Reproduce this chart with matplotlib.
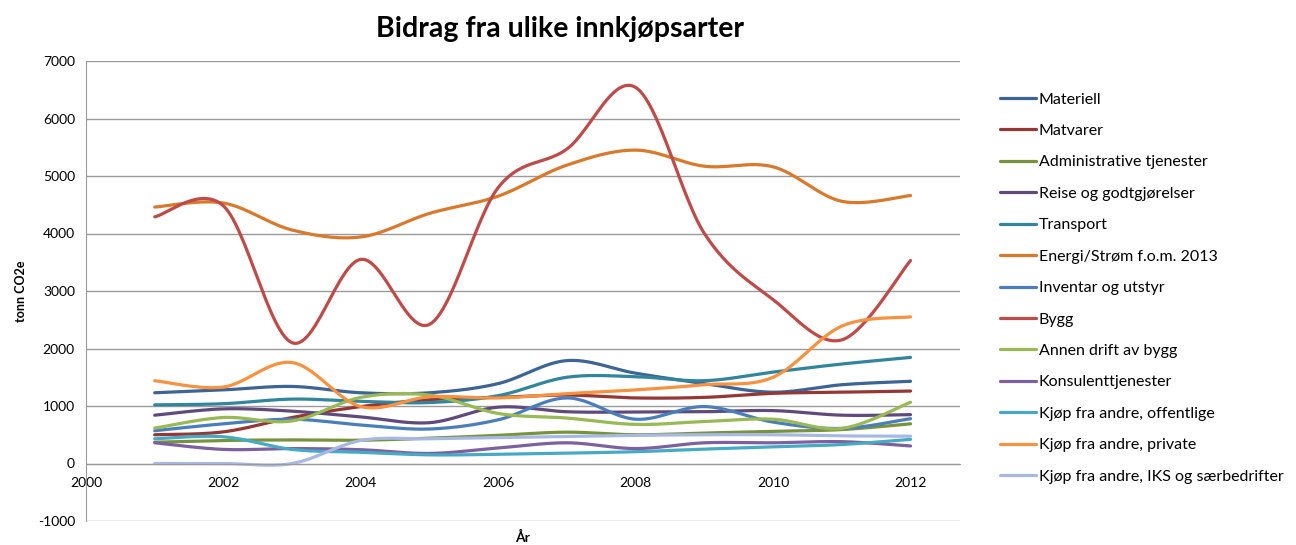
import numpy as np
import matplotlib
matplotlib.use('agg')
import matplotlib.pyplot as plt

plt.rcParams['font.family'] = ['Lato', 'DejaVu Sans']
plt.rcParams['axes.unicode_minus'] = False

years = [2001, 2002, 2003, 2004, 2005, 2006, 2007, 2008, 2009, 2010, 2011, 2012]

materiell = [1230, 1280, 1340, 1230, 1230, 1390, 1790, 1570, 1390, 1240, 1370, 1430]
matvarer = [500, 550, 800, 990, 1110, 1150, 1190, 1140, 1150, 1220, 1240, 1260]
administrative = [370, 400, 410, 405, 440, 490, 545, 500, 530, 560, 590, 690]
reise = [840, 950, 910, 810, 710, 980, 900, 895, 900, 920, 840, 850]
transport = [1020, 1040, 1120, 1080, 1060, 1180, 1500, 1510, 1440, 1590, 1730, 1845]
energi = [4460, 4530, 4060, 3940, 4350, 4650, 5190, 5450, 5170, 5160, 4560, 4660]
inventar = [570, 690, 770, 670, 600, 760, 1140, 770, 990, 720, 610, 780]
bygg = [4290, 4480, 2100, 3550, 2420, 4800, 5470, 6540, 4000, 2850, 2150, 3530]
annen_drift = [615, 800, 740, 1150, 1190, 870, 790, 680, 730, 770, 610, 1065]
konsulent = [360, 245, 260, 240, 175, 270, 360, 260, 360, 360, 380, 305]
kjop_offentlige = [430, 465, 245, 195, 150, 160, 180, 205, 250, 290, 330, 420]
kjop_private = [1440, 1330, 1755, 990, 1160, 1140, 1215, 1280, 1370, 1500, 2390, 2550]
kjop_iks = [0, 0, 0, 400, 430, 450, 470, 490, 500, 500, 480, 475]

series = [
    ('Materiell', materiell, '#3C6494'),
    ('Matvarer', matvarer, '#953735'),
    ('Administrative tjenester', administrative, '#77933C'),
    ('Reise og godtgjørelser', reise, '#604A7B'),
    ('Transport', transport, '#31859C'),
    ('Energi/Strøm f.o.m. 2013', energi, '#D9792B'),
    ('Inventar og utstyr', inventar, '#4A7EBB'),
    ('Bygg', bygg, '#BE4B48'),
    ('Annen drift av bygg', annen_drift, '#98B954'),
    ('Konsulenttjenester', konsulent, '#7D60A0'),
    ('Kjøp fra andre, offentlige', kjop_offentlige, '#46AAC5'),
    ('Kjøp fra andre, private', kjop_private, '#F69240'),
    ('Kjøp fra andre, IKS og særbedrifter', kjop_iks, '#A7B9E3'),
]


def smooth(x, y, n=30):
    # Excel-style smoothed line: Bezier segments with Catmull-Rom control points
    x = np.asarray(x, float)
    y = np.asarray(y, float)
    px = np.concatenate([[x[0]], x, [x[-1]]])
    py = np.concatenate([[y[0]], y, [y[-1]]])
    t = np.linspace(0, 1, n)
    xs, ys = [], []
    for i in range(len(x) - 1):
        p0 = np.array([px[i + 1], py[i + 1]])
        p3 = np.array([px[i + 2], py[i + 2]])
        c1 = p0 + (p3 - np.array([px[i], py[i]])) / 6
        c2 = p3 - (np.array([px[i + 3], py[i + 3]]) - p0) / 6
        b = ((1 - t) ** 3)[:, None] * p0 + (3 * (1 - t) ** 2 * t)[:, None] * c1 \
            + (3 * (1 - t) * t ** 2)[:, None] * c2 + (t ** 3)[:, None] * p3
        xs.append(b[:, 0])
        ys.append(b[:, 1])
    return np.concatenate(xs), np.concatenate(ys)


fig = plt.figure(figsize=(12.96, 5.45), dpi=100)
ax = fig.add_axes([86 / 1296, 1 - 521 / 545, (960 - 86) / 1296, (521 - 61) / 545])

for name, vals, color in series:
    sx, sy = smooth(years, vals)
    ax.plot(sx, sy, color=color, lw=2.3, label=name, solid_capstyle='round')

ax.set_xlim(2000, 2012.72)
ax.set_ylim(-1000, 7000)
ax.set_yticks(range(-1000, 7001, 1000))
ax.set_xticks(range(2000, 2013, 2))
ax.yaxis.grid(True, color='#9a9a9a', lw=1)
ax.set_axisbelow(True)

for s in ['top', 'right']:
    ax.spines[s].set_visible(False)
ax.spines['left'].set_color('#9a9a9a')
ax.spines['bottom'].set_position(('data', 0))
ax.spines['bottom'].set_color('#9a9a9a')
ax.tick_params(axis='both', length=0, labelsize=10, colors='#000000')
ax.tick_params(axis='x', pad=10)
ax.tick_params(axis='y', pad=8)

ax.set_ylabel('tonn CO2e', fontsize=9, fontweight='bold', labelpad=8)
fig.text(523 / 1296, 1 - 537 / 545, 'År', ha='center', va='center', fontsize=10, fontweight='bold')
fig.text(560 / 1296, 1 - 29 / 545, 'Bidrag fra ulike innkjøpsarter', ha='center', va='center',
         fontsize=20.5, fontweight='bold')

fig.legend(loc='upper left', bbox_to_anchor=(986 / 1296, 1 - 78 / 545), frameon=False,
           fontsize=11.5, handlelength=2.2, handletextpad=0.2, labelspacing=1.08)

fig.savefig('out.png', dpi=100)
